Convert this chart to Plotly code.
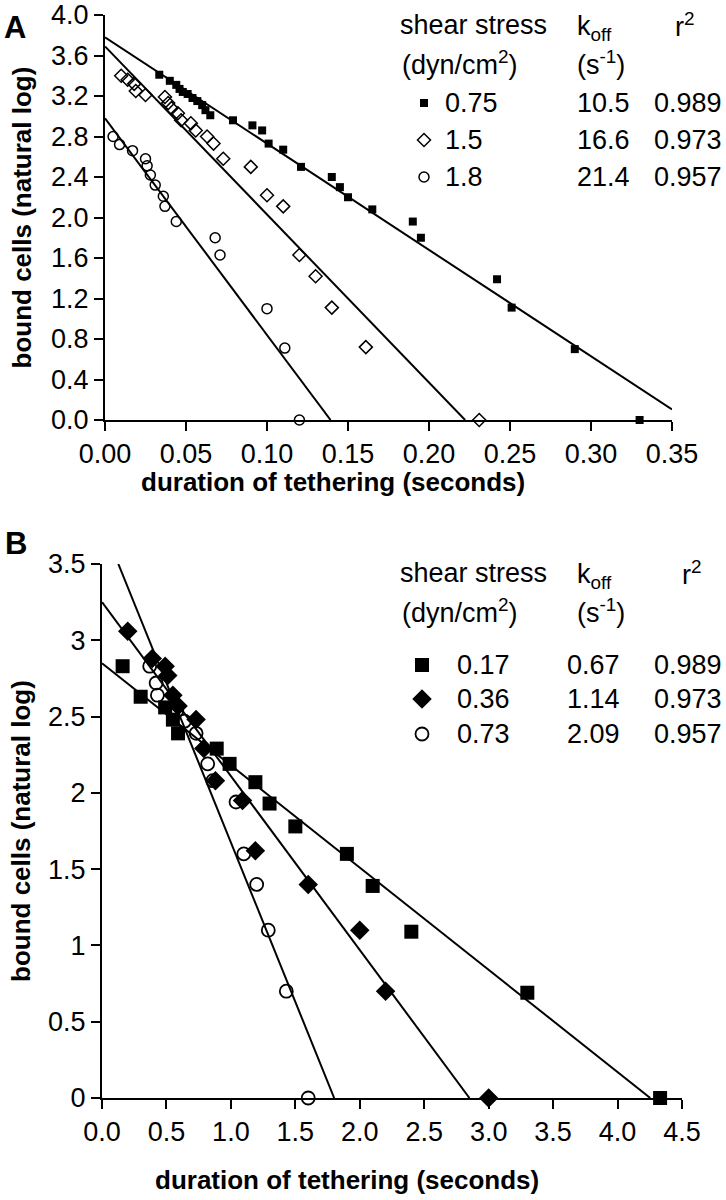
import plotly.graph_objects as go
import numpy as np

W, H = 726, 1200
FONT = "Liberation Sans, Arial, Helvetica, sans-serif"

# ---------------- Panel A data ----------------
a_sq_x = [0.0335, 0.040, 0.044, 0.046, 0.048, 0.051, 0.054, 0.057, 0.060, 0.062, 0.065, 0.079, 0.091, 0.097,
          0.101, 0.110, 0.121, 0.140, 0.145, 0.150, 0.165, 0.190, 0.195, 0.242, 0.251, 0.290, 0.330]
a_sq_y = [3.41, 3.35, 3.31, 3.27, 3.24, 3.22, 3.18, 3.15, 3.11, 3.06, 3.01, 2.96, 2.91, 2.86,
          2.73, 2.67, 2.50, 2.40, 2.30, 2.20, 2.08, 1.96, 1.80, 1.39, 1.11, 0.70, 0.00]
a_di_x = [0.010, 0.014, 0.018, 0.019, 0.025, 0.037, 0.039, 0.041, 0.045, 0.047, 0.053, 0.056, 0.063, 0.067,
          0.073, 0.090, 0.100, 0.110, 0.120, 0.130, 0.140, 0.161, 0.231]
a_di_y = [3.40, 3.36, 3.32, 3.25, 3.21, 3.19, 3.13, 3.08, 3.03, 2.96, 2.93, 2.86, 2.80, 2.73,
          2.58, 2.50, 2.22, 2.11, 1.63, 1.42, 1.11, 0.72, 0.00]
a_ci_x = [0.005, 0.009, 0.017, 0.025, 0.026, 0.028, 0.031, 0.036, 0.037, 0.044, 0.068, 0.071, 0.100, 0.111, 0.120]
a_ci_y = [2.80, 2.72, 2.66, 2.58, 2.51, 2.42, 2.32, 2.21, 2.11, 1.96, 1.80, 1.63, 1.10, 0.71, 0.00]

a_stress = ["0.75", "1.5", "1.8"]
a_koff = [10.5, 16.6, 21.4]
a_r2 = ["0.989", "0.973", "0.957"]
a_intercept = [3.78, 3.69, 2.98]
a_xticks = [0.00, 0.05, 0.10, 0.15, 0.20, 0.25, 0.30, 0.35]
a_yticks = [0.0, 0.4, 0.8, 1.2, 1.6, 2.0, 2.4, 2.8, 3.2, 3.6, 4.0]

# ---------------- Panel B data ----------------
b_sq_x = [0.16, 0.30, 0.49, 0.55, 0.59, 0.89, 0.99, 1.19, 1.30, 1.50, 1.90, 2.10, 2.40, 3.30, 4.33]
b_sq_y = [2.83, 2.63, 2.56, 2.48, 2.39, 2.29, 2.19, 2.07, 1.93, 1.78, 1.60, 1.39, 1.09, 0.69, 0.00]
b_di_x = [0.20, 0.39, 0.49, 0.51, 0.55, 0.59, 0.73, 0.79, 0.88, 1.09, 1.19, 1.60, 2.00, 2.20, 3.00]
b_di_y = [3.06, 2.88, 2.83, 2.77, 2.64, 2.57, 2.48, 2.29, 2.08, 1.95, 1.62, 1.40, 1.10, 0.70, 0.00]
b_ci_x = [0.37, 0.42, 0.43, 0.58, 0.64, 0.73, 0.82, 0.86, 1.04, 1.10, 1.20, 1.29, 1.43, 1.60]
b_ci_y = [2.83, 2.72, 2.64, 2.54, 2.47, 2.39, 2.19, 2.08, 1.94, 1.60, 1.40, 1.10, 0.70, 0.00]

b_stress = ["0.17", "0.36", "0.73"]
b_koff = [0.67, 1.14, 2.09]
b_r2 = ["0.989", "0.973", "0.957"]
b_intercept = [2.85, 3.25, 3.765]
b_xticks = [0.0, 0.5, 1.0, 1.5, 2.0, 2.5, 3.0, 3.5, 4.0, 4.5]
b_yticks = [0, 0.5, 1, 1.5, 2, 2.5, 3, 3.5]

# ---------------- layout geometry (pixels) ----------------
A_X = (105, 672); A_Y = (15, 420)
B_X = (102, 682); B_Y = (564, 1098)


def dom_x(p):
    return [p[0] / W, p[1] / W]


def dom_y(p):
    return [1 - p[1] / H, 1 - p[0] / H]


def fit_line(b, k, xmax, ymax):
    x0 = max(0.0, (b - ymax) / k)
    x1 = min(xmax, b / k)
    xs = np.array([x0, x1])
    return xs, b - k * xs


fig = go.Figure()

sym_a = [dict(symbol="square", size=8, color="black", line=dict(width=0)),
         dict(symbol="diamond-open", size=10, color="black", line=dict(width=1.5)),
         dict(symbol="circle-open", size=10, color="black", line=dict(width=1.5))]
sym_b = [dict(symbol="square", size=14, color="black", line=dict(width=0)),
         dict(symbol="diamond", size=15, color="black", line=dict(width=0)),
         dict(symbol="circle-open", size=13, color="black", line=dict(width=1.8))]

# Panel A
for b, k in zip(a_intercept, a_koff):
    xs, ys = fit_line(b, k, a_xticks[-1], a_yticks[-1])
    fig.add_trace(go.Scatter(x=xs, y=ys, mode="lines", line=dict(color="black", width=2),
                             xaxis="x", yaxis="y", hoverinfo="skip"))
for (xs, ys), m in zip([(a_sq_x, a_sq_y), (a_di_x, a_di_y), (a_ci_x, a_ci_y)], sym_a):
    fig.add_trace(go.Scatter(x=xs, y=ys, mode="markers", marker=m, cliponaxis=False,
                             xaxis="x", yaxis="y"))

# Panel B
for b, k in zip(b_intercept, b_koff):
    xs, ys = fit_line(b, k, b_xticks[-1], b_yticks[-1])
    fig.add_trace(go.Scatter(x=xs, y=ys, mode="lines", line=dict(color="black", width=2),
                             xaxis="x2", yaxis="y2", hoverinfo="skip"))
for (xs, ys), m in zip([(b_sq_x, b_sq_y), (b_di_x, b_di_y), (b_ci_x, b_ci_y)], sym_b):
    fig.add_trace(go.Scatter(x=xs, y=ys, mode="markers", marker=m, cliponaxis=False,
                             xaxis="x2", yaxis="y2"))

# Legend markers (overlay pixel axes)
a_rows = [103, 140, 177]
b_rows = [665, 699, 734]
for yy, m in zip(a_rows, sym_a):
    fig.add_trace(go.Scatter(x=[424], y=[yy], mode="markers", marker=m, xaxis="x3", yaxis="y3",
                             cliponaxis=False))
for yy, m in zip(b_rows, sym_b):
    fig.add_trace(go.Scatter(x=[422], y=[yy], mode="markers", marker=m, xaxis="x3", yaxis="y3",
                             cliponaxis=False))

axis_common = dict(showline=True, linecolor="black", linewidth=2, ticks="outside", ticklen=9,
                   tickwidth=2, tickcolor="black", showgrid=False, zeroline=False,
                   tickfont=dict(family=FONT, size=27, color="black"), automargin=False,
                   layer="below traces", fixedrange=True)

fig.update_layout(
    width=W, height=H, margin=dict(l=0, r=0, t=0, b=0),
    paper_bgcolor="white", plot_bgcolor="rgba(0,0,0,0)", showlegend=False,
    xaxis=dict(domain=dom_x(A_X), range=[0, a_xticks[-1]], tickvals=a_xticks, tickformat=".2f",
               anchor="y", **axis_common),
    yaxis=dict(domain=dom_y(A_Y), range=[0, a_yticks[-1]], tickvals=a_yticks, tickformat=".1f",
               anchor="x", **axis_common),
    xaxis2=dict(domain=dom_x(B_X), range=[0, b_xticks[-1]], tickvals=b_xticks, tickformat=".1f",
                anchor="y2", **axis_common),
    yaxis2=dict(domain=dom_y(B_Y), range=[0, b_yticks[-1]], tickvals=b_yticks,
                anchor="x2", **axis_common),
    xaxis3=dict(domain=[0, 1], range=[0, W], visible=False, fixedrange=True, anchor="y3"),
    yaxis3=dict(domain=[0, 1], range=[H, 0], visible=False, fixedrange=True, anchor="x3"),
)

ann = []


def txt(x, y, s, size=27, bold=False, xa="left", ya="middle", angle=0):
    f = dict(family=FONT, size=size, color="black")
    if bold:
        s = "<b>" + s + "</b>"
    ann.append(dict(x=x, y=y, xref="x3", yref="y3", text=s, showarrow=False, font=f,
                    xanchor=xa, yanchor=ya, textangle=angle))


# Panel labels and axis titles
txt(15, 27, "A", size=31, bold=True, xa="center")
txt(16, 543, "B", size=31, bold=True, xa="center")
txt(21, (A_Y[0] + A_Y[1]) / 2, "bound cells (natural log)", size=26, bold=True, xa="center", angle=-90)
txt(21, (B_Y[0] + B_Y[1]) / 2, "bound cells (natural log)", size=26, bold=True, xa="center", angle=-90)
txt(333, 482, "duration of tethering (seconds)", size=26, bold=True, xa="center")
txt(347, 1180, "duration of tethering (seconds)", size=26, bold=True, xa="center")

# Legend tables
for top, rows, stress, koff, r2, sx, kx, rx, fmt in [
        (25, a_rows, a_stress, a_koff, a_r2, 443, 575, 673, "{:.1f}"),
        (573, b_rows, b_stress, b_koff, b_r2, 455, 565, 680, "{:.2f}")]:
    txt(398, top, "shear stress")
    txt(400, top + 38, "(dyn/cm<sup>2</sup>)")
    txt(575, top + 3, "k<sub>off</sub>")
    txt(575, top + 38, "(s<sup>-1</sup>)")
    txt(rx, top, "r<sup>2</sup>")
    for yy, s_, k_, r_ in zip(rows, stress, koff, r2):
        txt(sx, yy, s_)
        txt(kx, yy, fmt.format(k_))
        txt(652, yy, r_)

fig.update_layout(annotations=ann)
fig.write_html(
    "out.html",
    config={"displayModeBar": False, "staticPlot": True},
    post_script="document.body.style.margin='0';document.documentElement.style.overflow='hidden';"
                "document.body.style.overflow='hidden';",
)
